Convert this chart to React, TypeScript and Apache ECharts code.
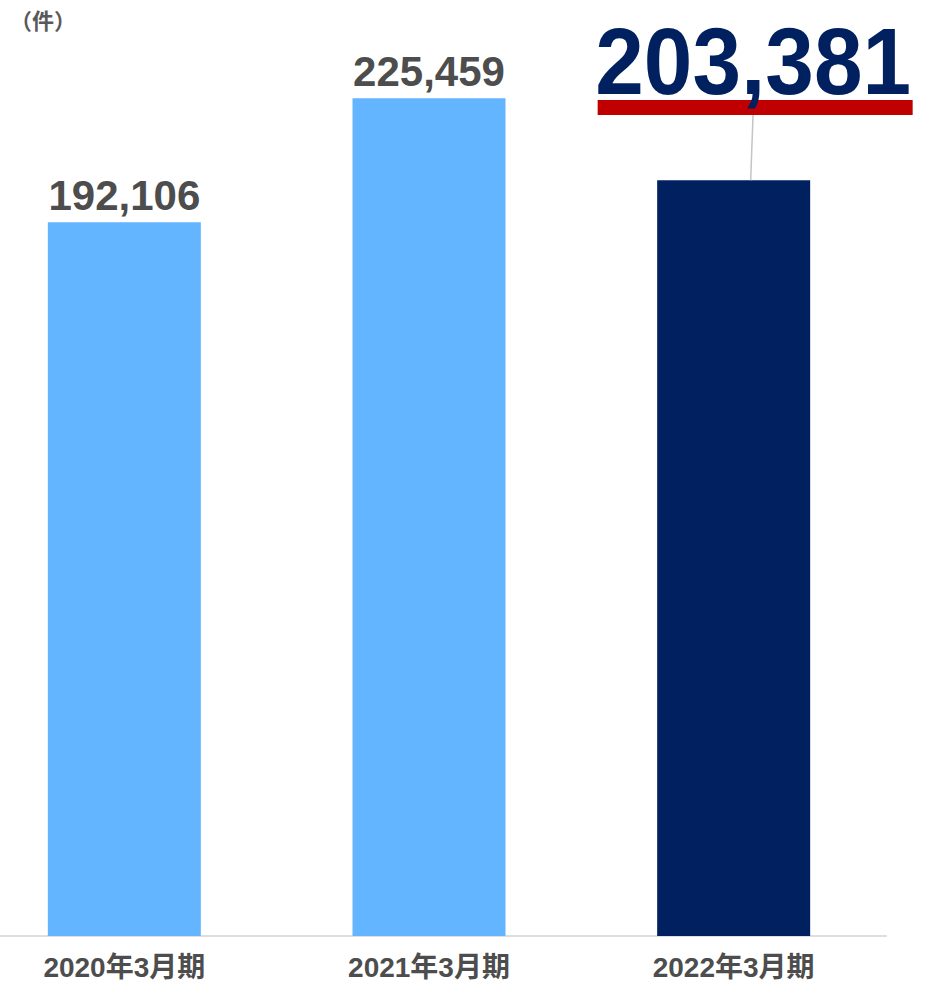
import React, { useEffect, useRef } from "react";
import * as echarts from "echarts";

const categories = ["2020年3月期", "2021年3月期", "2022年3月期"];
const values = [192106, 225459, 203381];
const barColors = ["#64B5FF", "#64B5FF", "#00205F"];
const unitLabel = "（件）";
const highlightIndex = 2;

const fmt = (v: number) => v.toLocaleString("en-US");

export default function App() {
  const ref = useRef<HTMLDivElement>(null);
  useEffect(() => {
    const chart = echarts.init(ref.current!, null, { renderer: "svg" });
    chart.setOption({
      animation: false,
      grid: { left: 0, right: 55, top: 7, bottom: 47 },
      xAxis: {
        type: "category",
        data: categories,
        axisLine: { lineStyle: { color: "#dedede", width: 2 } },
        axisTick: { show: false },
        axisLabel: {
          color: "#4d4d4d",
          fontSize: 28,
          fontWeight: "bold",
          fontFamily: "'Liberation Sans', 'Noto Sans CJK JP', sans-serif",
          margin: 17,
        },
      },
      yAxis: { type: "value", min: 0, max: 250000, show: false, splitLine: { show: false } },
      series: [
        {
          type: "bar",
          barWidth: 153,
          data: values.map((v, i) => ({
            value: v,
            itemStyle: { color: barColors[i] },
            label: { show: i !== highlightIndex },
          })),
          label: {
            show: true,
            position: "top",
            distance: 6,
            color: "#4d4d4d",
            fontSize: 42,
            fontWeight: "bold",
            fontFamily: "'Liberation Sans', Arial, sans-serif",
            formatter: (p: any) => fmt(p.value),
          },
        },
      ],
    });
    const pt = chart.convertToPixel({ seriesIndex: 0 }, [highlightIndex, values[highlightIndex]]) as number[];
    const bx = pt[0];
    const by = pt[1];
    chart.setOption({
      graphic: [
        {
          type: "text",
          left: 38,
          top: 8,
          style: {
            text: unitLabel,
            fill: "#595959",
            font: "bold 22px 'Noto Sans CJK JP', sans-serif",
          },
        },
        {
          type: "line",
          shape: { x1: bx + 20, y1: 98, x2: bx + 17, y2: by },
          style: { stroke: "#c4c4c4", lineWidth: 1.5 },
          z: 10,
        },
        {
          type: "rect",
          shape: { x: bx - 136, y: 100, width: 315, height: 15 },
          style: { fill: "#C00000" },
          z: 11,
        },
        {
          type: "text",
          x: bx + 19.5,
          y: 61,
          scaleX: 0.92,
          style: {
            text: fmt(values[highlightIndex]),
            fill: "#00205F",
            font: "bold 95px 'Liberation Sans', Arial, sans-serif",
            align: "center",
            verticalAlign: "middle",
          },
          z: 12,
        },
      ],
    });
    return () => chart.dispose();
  }, []);
  return <div ref={ref} style={{ position: "absolute", left: -28, top: 0, width: 969, height: 983 }} />;
}
